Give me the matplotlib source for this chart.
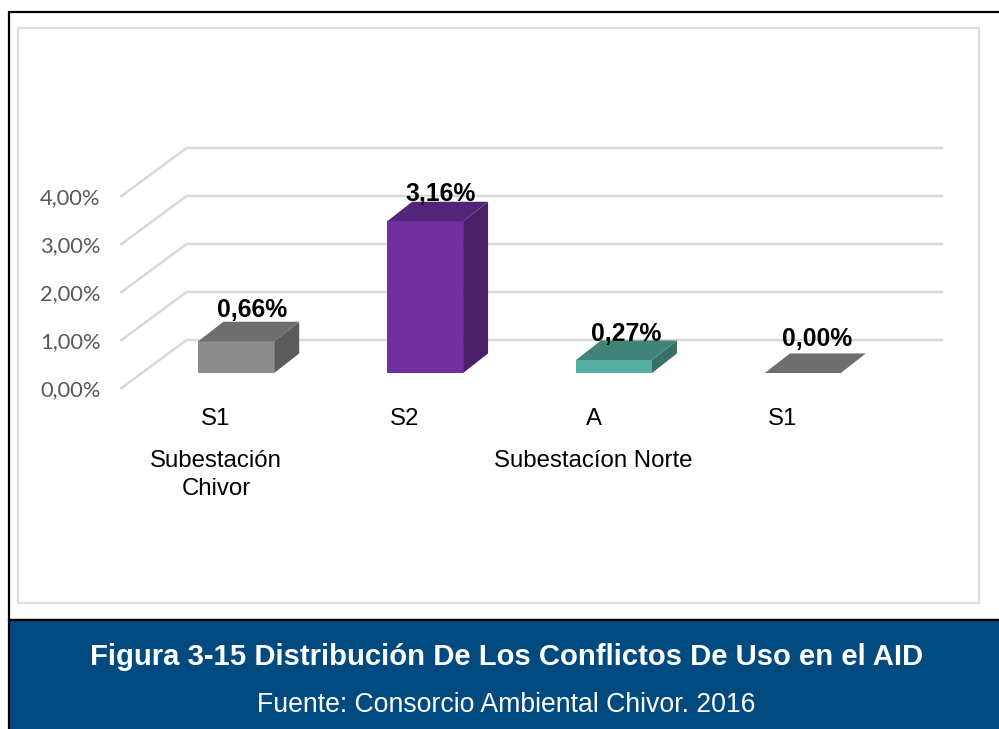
import matplotlib
matplotlib.use("Agg")
import matplotlib.pyplot as plt
from matplotlib.patches import Polygon, Rectangle

W, H = 999, 729

categories = ["S1", "S2", "A", "S1"]
values = [0.66, 3.16, 0.27, 0.00]
value_labels = ["0,66%", "3,16%", "0,27%", "0,00%"]
y_ticks = [0, 1, 2, 3, 4]
y_tick_labels = ["0,00%", "1,00%", "2,00%", "3,00%", "4,00%"]
group_labels = ["Subestación\nChivor", "Subestacíon Norte"]
group_positions = [0, 2]
title = "Figura 3-15 Distribución De Los Conflictos De Uso en el AID"
source = "Fuente: Consorcio Ambiental Chivor. 2016"

front_colors = ["#8c8c8c", "#7030a0", "#55afa0", "#8c8c8c"]
top_colors = ["#6e6e6e", "#532578", "#408478", "#6e6e6e"]
side_colors = ["#5c5c5c", "#4a2068", "#37706a", "#5c5c5c"]
label_offsets = [(3.5, 12), (3, 8), (0, 6), (2, 14)]

# oblique projection of the 3d floor
DEPTH_X = 65 / 189
DEPTH_Y = 1.0
BAR_W = 76 / 189
BAR_DX = 25 / 189
D0 = 0.3125
D1 = 0.72


def project(x, v, d):
    return x + d * DEPTH_X, v + d * DEPTH_Y


def px_rect(x0, y0, x1, y1, **kw):
    r = Rectangle((x0 / W, 1 - y1 / H), (x1 - x0) / W, (y1 - y0) / H,
                  transform=fig.transFigure, zorder=-1, **kw)
    fig.add_artist(r)


fig = plt.figure(figsize=(W / 100, H / 100), dpi=100, facecolor="white")

# frame and caption band
px_rect(9, 11.5, W + 5, 620, facecolor="white", edgecolor="black", linewidth=1.6)
px_rect(18, 27.5, 978.5, 603, facecolor="white", edgecolor="#dedede", linewidth=1.6)
px_rect(9, 620, W + 5, H + 5, facecolor="#004a80", edgecolor="black", linewidth=1.6)

ax = fig.add_axes([121.5 / W, 1 - 388 / H, (877 - 121.5) / W, (388 - 148) / H])
ax.patch.set_alpha(0)
ax.set_xlim(-0.5, 3.5)
ax.set_ylim(0, 5)
for s in ax.spines.values():
    s.set_visible(False)

ax.set_yticks(y_ticks)
ax.set_yticklabels(y_tick_labels, family="Lato", fontsize=15.8, color="#595959")
ax.set_xticks(range(len(categories)))
ax.set_xticklabels(categories, family="Liberation Sans", fontsize=17.3, color="black")
ax.tick_params(axis="both", length=0)
ax.tick_params(axis="x", pad=14.5)
ax.tick_params(axis="y", pad=15)

for v in y_ticks:
    bx, by = project(-0.5, v, 1)
    ex, ey = project(3.5, v, 1)
    ax.plot([-0.5, bx, ex], [v, by, ey], color="#d9d9d9", lw=1.8, clip_on=False,
            solid_joinstyle="miter", zorder=1)

for i, val in enumerate(values):
    x0 = i - BAR_W / 2
    x1 = i + BAR_W / 2
    fx0, fb = project(x0, 0, D0)
    fx1, ft = project(x1, val, D0)
    bb = project(x0, 0, D1)[1]
    bt = project(x1, val, D1)[1]
    bx0 = fx0 + BAR_DX
    bx1 = fx1 + BAR_DX
    if val > 0:
        ax.bar(fx0, val, width=fx1 - fx0, bottom=fb, align="edge", color=front_colors[i],
               zorder=3, clip_on=False)
        ax.add_patch(Polygon([(fx1, fb), (bx1, bb), (bx1, bt), (fx1, ft)],
                             facecolor=side_colors[i], clip_on=False, zorder=3))
    ax.add_patch(Polygon([(fx0, ft), (fx1, ft), (bx1, bt), (bx0, bt)],
                         facecolor=top_colors[i], clip_on=False, zorder=3))
    ax.annotate(value_labels[i], ((bx0 + fx1) / 2, bt), xytext=label_offsets[i],
                textcoords="offset pixels", ha="center", va="center",
                family="Liberation Sans", fontweight="bold", fontsize=17.8, color="black",
                zorder=5, annotation_clip=False)

for pos, lab in zip(group_positions, group_labels):
    ax.annotate(lab, (pos, 0), xytext=(0, -62), textcoords="offset pixels", ha="center",
                va="top", family="Liberation Sans", fontsize=17.3, color="black",
                linespacing=1.35, annotation_clip=False)

fig.text(506.5 / W, 1 - 657 / H, title, ha="center", va="center", color="white",
         family="Liberation Sans", fontweight="bold", fontsize=21.1)
fig.text(506.5 / W, 1 - 705 / H, source, ha="center", va="center", color="white",
         family="Liberation Sans", fontsize=19.2)

fig.savefig("out.png", dpi=100)
